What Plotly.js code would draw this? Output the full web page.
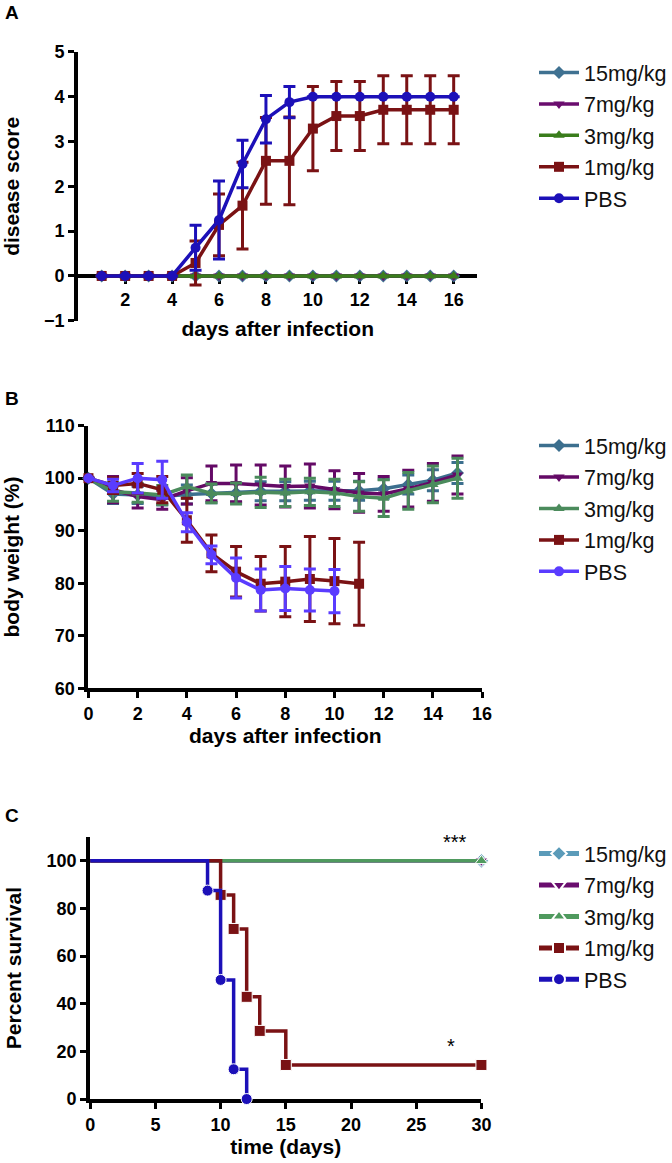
<!DOCTYPE html>
<html>
<head>
<meta charset="utf-8">
<script src="https://cdn.plot.ly/plotly-3.0.1.min.js"></script>
<style>
html,body{margin:0;padding:0;background:#fff;}
#chart{width:672px;height:1163px;}
</style>
</head>
<body>
<div id="chart"></div>
<script>
// ---------- DATA ----------
const groups = ["15mg/kg", "7mg/kg", "3mg/kg", "1mg/kg", "PBS"];

// Panel A: disease score
const daysA = [1, 2, 3, 4, 5, 6, 7, 8, 9, 10, 11, 12, 13, 14, 15, 16];
const scoreA_15 = [0, 0, 0, 0, 0, 0, 0, 0, 0, 0, 0, 0, 0, 0, 0, 0];
const scoreA_7  = [0, 0, 0, 0, 0, 0, 0, 0, 0, 0, 0, 0, 0, 0, 0, 0];
const scoreA_3  = [0, 0, 0, 0, 0, 0, 0, 0, 0, 0, 0, 0, 0, 0, 0, 0];
const scoreA_1  = [0, 0, 0, 0, 0.29, 1.14, 1.57, 2.57, 2.57, 3.29, 3.57, 3.57, 3.71, 3.71, 3.71, 3.71];
const sdA_1     = [0, 0, 0, 0, 0.49, 0.69, 0.97, 0.97, 0.98, 0.94, 0.77, 0.77, 0.76, 0.76, 0.76, 0.76];
const scoreA_P  = [0, 0, 0, 0, 0.63, 1.25, 2.5, 3.5, 3.88, 4, 4, 4, 4, 4, 4, 4];
const sdA_P     = [0, 0, 0, 0, 0.5, 0.87, 0.53, 0.53, 0.35, 0, 0, 0, 0, 0, 0, 0];

// Panel B: body weight (%)
const daysB_long = [0, 1, 2, 3, 4, 5, 6, 7, 8, 9, 10, 11, 12, 13, 14, 15];
const weightB_15 = [100, 97.0, 96.8, 96.5, 96.9, 97.1, 97.2, 97.5, 97.5, 97.6, 97.6, 97.6, 98.0, 98.8, 99.6, 101.0];
const sdB_15     = [0, 1.8, 1.6, 1.6, 1.8, 1.8, 1.8, 1.8, 1.8, 1.8, 1.8, 1.8, 1.8, 1.8, 2.0, 2.0];
const weightB_7  = [100, 97.8, 96.5, 95.9, 97.6, 99.0, 99.0, 98.7, 98.4, 98.5, 97.8, 97.2, 97.0, 98.0, 99.2, 100.6];
const sdB_7      = [0, 2.5, 2.2, 1.8, 2.5, 3.3, 3.5, 3.8, 3.9, 4.2, 3.6, 3.7, 3.3, 3.5, 3.6, 3.6];
const weightB_3  = [100, 97.4, 97.2, 96.8, 98.4, 97.1, 97.1, 97.3, 97.2, 97.4, 97.2, 96.5, 96.2, 97.6, 98.8, 100.0];
const sdB_3      = [0, 1.8, 1.8, 1.8, 2.2, 1.8, 2.0, 2.9, 2.6, 2.6, 2.6, 2.8, 3.5, 3.5, 3.5, 3.8];
const daysB_1    = [0, 1, 2, 3, 4, 5, 6, 7, 8, 9, 10, 11];
const weightB_1  = [100, 98.6, 99.0, 97.8, 92.0, 85.7, 82.2, 79.9, 80.3, 80.8, 80.4, 79.9];
const sdB_1      = [0, 1.5, 1.9, 2.5, 4.2, 3.5, 4.8, 5.2, 6.7, 8.1, 8.1, 7.9];
const daysB_P    = [0, 1, 2, 3, 4, 5, 6, 7, 8, 9, 10];
const weightB_P  = [100, 98.6, 100.0, 99.7, 91.6, 85.4, 81.0, 78.7, 79.0, 78.7, 78.5];
const sdB_P      = [0, 1.2, 2.8, 3.5, 1.8, 1.7, 3.8, 4.0, 4.2, 4.0, 4.1];

// Panel C: survival (%)
const timeC_15 = [0, 30];   const survC_15 = [100, 100];
const timeC_7  = [0, 30];   const survC_7  = [100, 100];
const timeC_3  = [0, 30];   const survC_3  = [100, 100];
const timeC_1  = [0, 10, 11, 12, 13, 15, 30];
const survC_1  = [100, 85.7, 71.4, 42.9, 28.6, 14.3, 14.3];
const timeC_P  = [0, 9, 10, 11, 12];
const survC_P  = [100, 87.5, 50, 12.5, 0];
const sigLabels = ["***", "*"];

// ---------- STYLE ----------
const FONT = "Liberation Sans, Arial, sans-serif";
const symbols = ["diamond", "triangle-down", "triangle-up", "square", "circle"];
const colA = ["#3f7191", "#6a0d6e", "#3a7d1c", "#7a1214", "#1c10b8"];
const colB = ["#3c6f8e", "#640a66", "#4b8b5c", "#7a1214", "#5a3cff"];
const colC = ["#5b9bb9", "#6a0d6e", "#4f9a5e", "#7a1214", "#1c10b8"];

function errbar(arr, color) {
  return {type: "data", array: arr, visible: true, color: color, thickness: 3, width: 6};
}
function lineTrace(x, y, i, cols, xa, ya, leg, err) {
  const t = {
    x: x, y: y, name: groups[i], type: "scatter", mode: "lines+markers",
    xaxis: xa, yaxis: ya, legend: leg, legendgroup: leg + groups[i],
    line: {color: cols[i], width: 3.5},
    marker: {symbol: symbols[i], size: 10, color: cols[i], opacity: 1},
    cliponaxis: false
  };
  if (err) t.error_y = errbar(err, cols[i]);
  return t;
}
function survTrace(x, y, i) {
  const sizes = x.map((v, k) => k === 0 ? 0 : 11);
  return {
    x: x, y: y, name: groups[i], type: "scatter", mode: "lines+markers",
    xaxis: "x3", yaxis: "y3", legend: "legend3", legendgroup: "l3" + groups[i],
    line: {color: colC[i], width: 3.5, shape: "hv"},
    marker: {symbol: symbols[i], size: sizes, color: colC[i], opacity: 1},
    cliponaxis: false
  };
}

const traces = [
  lineTrace(daysA, scoreA_15, 0, colA, "x", "y", "legend", null),
  lineTrace(daysA, scoreA_7, 1, colA, "x", "y", "legend", null),
  lineTrace(daysA, scoreA_3, 2, colA, "x", "y", "legend", null),
  lineTrace(daysA, scoreA_1, 3, colA, "x", "y", "legend", sdA_1),
  lineTrace(daysA, scoreA_P, 4, colA, "x", "y", "legend", sdA_P),

  lineTrace(daysB_long, weightB_15, 0, colB, "x2", "y2", "legend2", sdB_15),
  lineTrace(daysB_long, weightB_7, 1, colB, "x2", "y2", "legend2", sdB_7),
  lineTrace(daysB_long, weightB_3, 2, colB, "x2", "y2", "legend2", sdB_3),
  lineTrace(daysB_1, weightB_1, 3, colB, "x2", "y2", "legend2", sdB_1),
  lineTrace(daysB_P, weightB_P, 4, colB, "x2", "y2", "legend2", sdB_P),

  survTrace(timeC_15, survC_15, 0),
  survTrace(timeC_7, survC_7, 1),
  survTrace(timeC_3, survC_3, 2),
  survTrace(timeC_1, survC_1, 3),
  survTrace(timeC_P, survC_P, 4)
];

const tickFont = {family: FONT, size: 18, color: "#000", weight: "bold"};
const titleFont = {family: FONT, size: 21, color: "#000", weight: "bold"};
function axis(extra) {
  return Object.assign({
    showline: true, linecolor: "#000", linewidth: 4, layer: "below traces",
    ticks: "outside", ticklen: 6, tickwidth: 3, tickcolor: "#000",
    showgrid: false, zeroline: false, tickfont: tickFont, fixedrange: true
  }, extra);
}
function legend(y, extra) {
  return Object.assign({
    x: 0.7995, y: y, xanchor: "left", yanchor: "top",
    font: {family: FONT, size: 21.5, color: "#111"},
    traceorder: "grouped", tracegroupgap: 0.5, itemwidth: 40,
    bgcolor: "rgba(0,0,0,0)"
  }, extra || {});
}
function label(text, y) {
  return {text: text, xref: "paper", yref: "paper", x: 0.018, y: y,
    xanchor: "center", yanchor: "middle", showarrow: false,
    font: {family: FONT, size: 19, color: "#000", weight: "bold"}};
}

const layout = {
  width: 672, height: 1163,
  margin: {l: 0, r: 0, t: 0, b: 0},
  paper_bgcolor: "#fff", plot_bgcolor: "#fff",
  showlegend: true,
  xaxis: axis({domain: [0.1171, 0.7143], range: [0, 17], anchor: "free", position: 0.7627,
    tickvals: [2, 4, 6, 8, 10, 12, 14, 16],
    title: {text: "days after infection", font: titleFont, standoff: 12}}),
  yaxis: axis({domain: [0.7242, 0.9553], range: [-1, 5], anchor: "x", dtick: 1,
    title: {text: "disease score", font: titleFont, standoff: 20}}),
  xaxis2: axis({domain: [0.1324, 0.7217], range: [0, 16], anchor: "y2", dtick: 2,
    title: {text: "days after infection", font: titleFont, standoff: 2}}),
  yaxis2: axis({domain: [0.4082, 0.6340], range: [60, 110], anchor: "x2", dtick: 10,
    title: {text: "body weight (%)", font: titleFont, standoff: 20}}),
  xaxis3: axis({domain: [0.1350, 0.7207], range: [0, 30], anchor: "y3", dtick: 5,
    title: {text: "time (days)", font: titleFont, standoff: 4}}),
  yaxis3: axis({domain: [0.0550, 0.2803], range: [0, 110], anchor: "x3",
    tickvals: [0, 20, 40, 60, 80, 100],
    title: {text: "Percent survival", font: titleFont, standoff: 20}}),
  legend: legend(0.9553),
  legend2: legend(0.6345),
  legend3: legend(0.2837, {itemsizing: "constant"}),
  annotations: [
    label("A", 0.989),
    label("B", 0.657),
    label("C", 0.2992),
    {text: sigLabels[0], xref: "x3", yref: "y3", x: 28, y: 108, showarrow: false,
     font: {family: FONT, size: 20, color: "#000"}},
    {text: sigLabels[1], xref: "x3", yref: "y3", x: 27.7, y: 22.2, showarrow: false,
     font: {family: FONT, size: 20, color: "#000"}}
  ]
};

Plotly.newPlot("chart", traces, layout, {displayModeBar: false, staticPlot: true});
</script>
</body>
</html>
